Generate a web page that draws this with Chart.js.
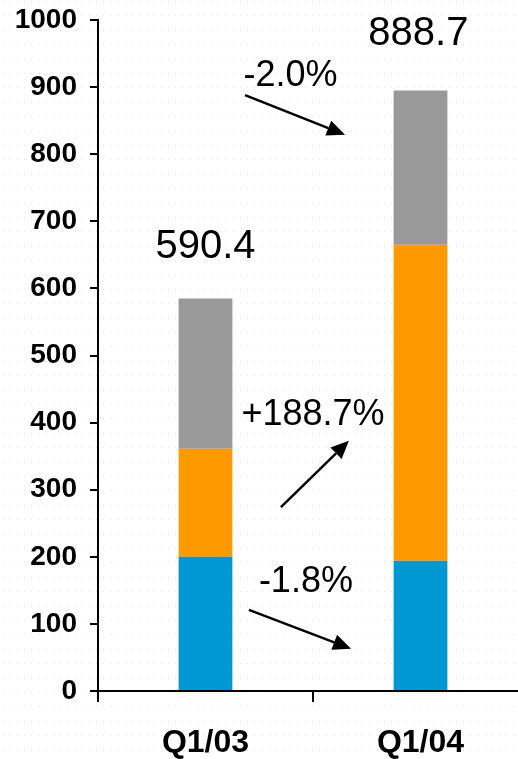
<!DOCTYPE html>
<html>
<head>
<meta charset="utf-8">
<script src="https://cdn.jsdelivr.net/npm/chart.js@4/dist/chart.umd.min.js"></script>
<style>
  html, body { margin: 0; padding: 0; background: #fff; overflow: hidden; width: 518px; height: 759px; }
  #wrap { width: 540px; height: 759px; position: relative; }
</style>
</head>
<body>
<div id="wrap"><canvas id="c" width="540" height="759"></canvas></div>
<script>
const categories = ['Q1/03', 'Q1/04'];
const blueValues = [200, 194];
const orangeValues = [161, 471];
const grayValues = [224, 230];
const yMin = 0, yMax = 1000, yStep = 100;
const totalLabels = ['590.4', '888.7'];
const changeLabels = ['-2.0%', '+188.7%', '-1.8%'];

// annotation anchors: x in category-index space, y in value space
const textNotes = [
  { text: totalLabels[0], x: 0.0,   y: 645, size: 40 },
  { text: totalLabels[1], x: 0.99,  y: 962, size: 40 },
  { text: changeLabels[0], x: 0.395, y: 901, size: 36 },
  { text: changeLabels[1], x: 0.5,   y: 396, size: 36 },
  { text: changeLabels[2], x: 0.467, y: 147, size: 36 }
];
const arrowNotes = [
  { x0: 0.184, y0: 888, x1: 0.649, y1: 829 },
  { x0: 0.351, y0: 274, x1: 0.667, y1: 373 },
  { x0: 0.202, y0: 121, x1: 0.677, y1: 63 }
];

const dotsPlugin = {
  id: 'dots',
  beforeDraw(chart) {
    const ctx = chart.ctx;
    ctx.save();
    ctx.fillStyle = 'rgba(0,0,0,0.1)';
    for (let y = 0.9; y < chart.height; y += 14.4) {
      for (let x = 2.5; x < chart.width; x += 7.2) {
        ctx.fillRect(Math.round(x), Math.round(y), 1, 1);
      }
    }
    ctx.restore();
  }
};

const notesPlugin = {
  id: 'notes',
  afterDraw(chart) {
    const xs = chart.scales.x, ys = chart.scales.y;
    const p0 = xs.getPixelForValue(0), p1 = xs.getPixelForValue(1);
    const px = i => p0 + i * (p1 - p0);
    const py = v => ys.getPixelForValue(v);
    const ctx = chart.ctx;
    ctx.save();
    ctx.fillStyle = '#000';
    ctx.textAlign = 'center';
    ctx.textBaseline = 'alphabetic';
    textNotes.forEach(n => {
      ctx.font = n.size + 'px "Liberation Sans", Arial, sans-serif';
      ctx.fillText(n.text, px(n.x), py(n.y));
    });
    ctx.strokeStyle = '#000';
    ctx.lineWidth = 2.5;
    arrowNotes.forEach(a => {
      const x0 = px(a.x0), y0 = py(a.y0), x1 = px(a.x1), y1 = py(a.y1);
      const ang = Math.atan2(y1 - y0, x1 - x0);
      const hl = 18, hw = 8;
      const bx = x1 - hl * Math.cos(ang), by = y1 - hl * Math.sin(ang);
      ctx.beginPath();
      ctx.moveTo(x0, y0);
      ctx.lineTo(bx, by);
      ctx.stroke();
      ctx.beginPath();
      ctx.moveTo(x1, y1);
      ctx.lineTo(bx + hw * Math.sin(ang), by - hw * Math.cos(ang));
      ctx.lineTo(bx - hw * Math.sin(ang), by + hw * Math.cos(ang));
      ctx.closePath();
      ctx.fill();
    });
    ctx.restore();
  }
};

new Chart(document.getElementById('c'), {
  type: 'bar',
  data: {
    labels: categories,
    datasets: [
      { label: 'A', data: blueValues, backgroundColor: '#0098D3' },
      { label: 'B', data: orangeValues, backgroundColor: '#FF9900' },
      { label: 'C', data: grayValues, backgroundColor: '#999999' }
    ]
  },
  options: {
    responsive: false,
    devicePixelRatio: 1,
    animation: false,
    layout: { padding: { top: 20, right: 12, left: 0, bottom: 0 } },
    datasets: { bar: { barPercentage: 0.5, categoryPercentage: 0.5 } },
    plugins: { legend: { display: false }, tooltip: { enabled: false } },
    scales: {
      x: {
        stacked: true,
        afterFit(s) { s.height = 68; s.paddingLeft = 0; s.paddingRight = 0; },
        grid: { drawOnChartArea: false, drawTicks: true, tickLength: 11, color: '#000', lineWidth: 2 },
        border: { color: '#000', width: 2 },
        ticks: { color: '#000', padding: 22, font: { family: '"Liberation Sans", Arial, sans-serif', size: 32, weight: 'bold' } }
      },
      y: {
        stacked: true,
        min: yMin, max: yMax,
        afterFit(s) { s.width = 98; s.paddingTop = 0; s.paddingBottom = 0; },
        grid: { drawOnChartArea: false, drawTicks: true, tickLength: 8, color: '#000', lineWidth: 2 },
        border: { color: '#000', width: 2 },
        ticks: {
          stepSize: yStep, color: '#000', padding: 13,
          callback: v => String(v),
          font: { family: '"Liberation Sans", Arial, sans-serif', size: 28, weight: 'bold' }
        }
      }
    }
  },
  plugins: [dotsPlugin, notesPlugin]
});
</script>
</body>
</html>
